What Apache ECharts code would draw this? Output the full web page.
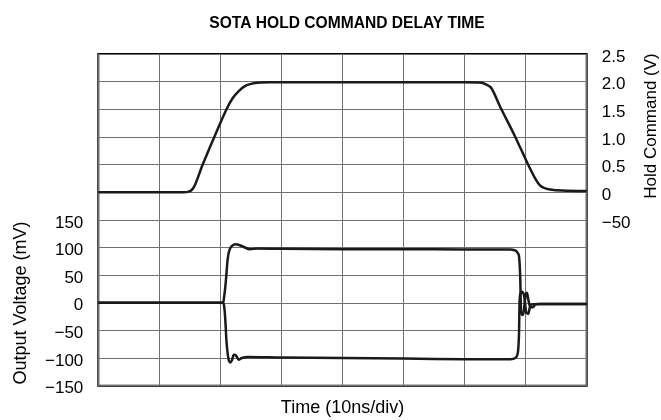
<!DOCTYPE html>
<html>
<head>
<meta charset="utf-8">
<script src="https://cdn.jsdelivr.net/npm/echarts@6/dist/echarts.min.js"></script>
<style>
  html, body { margin: 0; padding: 0; background: #fff; }
  #chart_delay { width: 661px; height: 420px; }
</style>
</head>
<body>
<div id="chart_delay"></div>
<script>
// hold command trace (right axis, V)
var holdTime  = [0, 14.0, 14.8, 15.3, 15.8, 17.1, 19.0, 21.0, 22.0, 23.0, 24.0, 25.0, 26.5, 28, 60, 62.5, 63.5, 64.4, 65.8, 68.3, 70.4, 71.6, 72.3, 73.0, 74.0, 76, 80];
var holdVolts = [0, 0, 0.01, 0.04, 0.12, 0.5, 1.0, 1.5, 1.7, 1.83, 1.92, 1.96, 1.985, 1.99, 1.99, 1.985, 1.95, 1.88, 1.55, 1.0, 0.5, 0.24, 0.13, 0.08, 0.05, 0.03, 0.02];

// output voltage, positive step (left axis, mV)
var posTime = [0, 20.3, 20.6, 20.9, 21.2, 21.5, 21.9, 22.5, 23.2, 24.0, 24.8, 26, 30, 40, 50, 60, 67.5, 68.2, 68.6, 68.9, 69.1, 69.2, 69.3, 69.55, 69.8, 70.0, 70.2, 70.45, 70.8, 71.2, 71.6, 72.5, 80];
var posMv   = [0, 0, 10, 40, 80, 96, 103, 106, 104, 100, 97, 98, 97.5, 97, 97, 96.5, 96.5, 95, 92, 85, 50, 0, -20, -22, -5, 15, 18, 5, -8, -8, -3, -2, -2];

// output voltage, negative step (left axis, mV)
var negTime = [0, 20.4, 20.6, 20.8, 21.0, 21.3, 21.6, 21.9, 22.2, 22.6, 23.0, 23.5, 24.5, 30, 40, 50, 60, 67.5, 68.3, 68.7, 68.9, 69.0, 69.1, 69.4, 69.7, 69.9, 70.1, 70.4, 70.7, 71.0, 72, 80];
var negMv   = [0, 0, -5, -30, -70, -100, -108, -104, -94, -96, -103, -100, -98, -99, -100, -101, -102, -102, -100, -92, -60, 0, 15, 20, 15, 0, -18, -20, -8, -3, -2, -2];

var leftTickValues  = [-150, -100, -50, 0, 50, 100, 150];
var leftTickLabels  = ['\u2212150', '\u2212100', '\u221250', '0', '50', '100', '150'];
var rightTickValues = [2.5, 2.0, 1.5, 1.0, 0.5, 0, -0.5];
var rightTickLabels = ['2.5', '2.0', '1.5', '1.0', '0.5', '0', '\u221250'];

function pairs(xs, ys) {
  return xs.map(function (x, i) { return [x, ys[i]]; });
}

function lookup(values, labels) {
  return function (v) {
    for (var i = 0; i < values.length; i++) {
      if (Math.abs(values[i] - v) < 1e-6) return labels[i];
    }
    return '';
  };
}

var font = 'Liberation Sans, Arial, Helvetica, sans-serif';
var traceColor = '#1a1a1a';

var chart = echarts.init(document.getElementById('chart_delay'));
chart.setOption({
  animation: false,
  title: {
    text: 'SOTA HOLD COMMAND DELAY TIME',
    left: 342,
    textAlign: 'center',
    top: 11,
    textStyle: { fontFamily: font, fontSize: 15.6, fontWeight: 'bold', color: '#000' }
  },
  grid: {
    left: 98.3,
    right: 74.3,
    top: 54,
    bottom: 34.3,
    outerBoundsMode: 'none',
    containLabel: false,
    show: true,
    borderColor: '#000',
    borderWidth: 2
  },
  xAxis: {
    type: 'value',
    min: 0,
    max: 80,
    interval: 10,
    name: 'Time (10ns/div)',
    nameLocation: 'middle',
    nameGap: 13,
    nameTextStyle: { fontFamily: font, fontSize: 18, color: '#000', verticalAlign: 'top' },
    axisLine: { show: false },
    axisTick: { show: false },
    axisLabel: { show: false },
    splitLine: { show: true, lineStyle: { color: '#707070', width: 1 } }
  },
  yAxis: [
    {
      type: 'value',
      min: -150,
      max: 450,
      interval: 50,
      axisLine: { show: false },
      axisTick: { show: false },
      axisLabel: {
        margin: 15,
        verticalAlign: 'top',
        lineHeight: 6,
        fontFamily: font,
        fontSize: 17,
        color: '#000',
        formatter: lookup(leftTickValues, leftTickLabels)
      },
      splitLine: { show: true, lineStyle: { color: '#707070', width: 1 } }
    },
    {
      type: 'value',
      min: -3.5,
      max: 2.5,
      interval: 0.5,
      position: 'right',
      axisLine: { show: false },
      axisTick: { show: false },
      axisLabel: {
        margin: 15,
        verticalAlign: 'top',
        lineHeight: 6,
        fontFamily: font,
        fontSize: 17,
        color: '#000',
        formatter: lookup(rightTickValues, rightTickLabels)
      },
      splitLine: { show: false }
    }
  ],
  graphic: [
    {
      type: 'text',
      x: 21, y: 303,
      rotation: Math.PI / 2,
      style: { text: 'Output Voltage (mV)', font: '18px ' + font, fill: '#000', align: 'center', verticalAlign: 'middle' }
    },
    {
      type: 'text',
      x: 651, y: 126,
      rotation: Math.PI / 2,
      style: { text: 'Hold Command (V)', font: '17px ' + font, fill: '#000', align: 'center', verticalAlign: 'middle' }
    }
  ],
  series: [
    {
      name: 'Hold Command',
      type: 'line',
      yAxisIndex: 1,
      showSymbol: false,
      smooth: 0.3,
      lineStyle: { color: traceColor, width: 2.5 },
      data: pairs(holdTime, holdVolts)
    },
    {
      name: 'Output +',
      type: 'line',
      yAxisIndex: 0,
      showSymbol: false,
      smooth: 0.3,
      lineStyle: { color: traceColor, width: 2.5 },
      data: pairs(posTime, posMv)
    },
    {
      name: 'Output -',
      type: 'line',
      yAxisIndex: 0,
      showSymbol: false,
      smooth: 0.3,
      lineStyle: { color: traceColor, width: 2.5 },
      data: pairs(negTime, negMv)
    }
  ]
});
</script>
</body>
</html>
